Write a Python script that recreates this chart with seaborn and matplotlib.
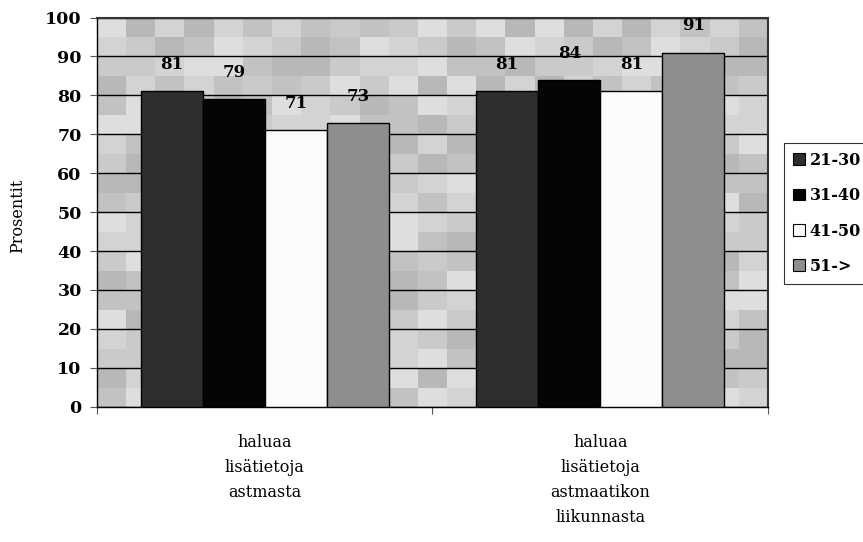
import numpy as np
import pandas as pd
import matplotlib
matplotlib.use("Agg")
import matplotlib.pyplot as plt
import seaborn as sns
from matplotlib.patches import Patch

# Survey data: share (%) of respondents in each age group
categories = ["haluaa\nlisätietoja\nastmasta",
              "haluaa\nlisätietoja\nastmaatikon\nliikunnasta"]
age_groups = ["21-30", "31-40", "41-50", "51->"]
values_21_30 = [81, 81]
values_31_40 = [79, 84]
values_41_50 = [71, 81]
values_51_up = [73, 91]
y_ticks = [0, 10, 20, 30, 40, 50, 60, 70, 80, 90, 100]

df = pd.DataFrame({
    "kysymys": categories * 4,
    "ikä": [g for g in age_groups for _ in categories],
    "prosentti": values_21_30 + values_31_40 + values_41_50 + values_51_up,
})

colors = {"21-30": "#2e2e2e", "31-40": "#050505",
          "41-50": "#fbfbfb", "51->": "#8e8e8e"}

sns.set_theme(style="white")
plt.rcParams["font.family"] = ["DejaVu Serif"]
plt.rcParams["text.color"] = "black"
plt.rcParams["axes.labelcolor"] = "black"
plt.rcParams["xtick.color"] = "black"
plt.rcParams["ytick.color"] = "black"

fig = plt.figure(figsize=(8.63, 5.42), dpi=100)
ax = fig.add_axes([0.1124, 0.2496, 0.7775, 0.7181])

# Mosaic-like grey backdrop of the plot area
tones = np.array([0.76, 0.83, 0.72, 0.87, 0.79])
cols, rows = 23, 20
ii, jj = np.meshgrid(np.arange(cols), np.arange(rows))
mosaic = tones[(ii * 3 + jj * 2 + (ii * jj) % 3) % len(tones)]
ax.imshow(mosaic, cmap="gray", vmin=0, vmax=1, aspect="auto",
          extent=(-0.5, 1.5, 0, 100), origin="lower", zorder=0,
          interpolation="nearest")

sns.barplot(data=df, x="kysymys", y="prosentti", hue="ikä",
            hue_order=age_groups, palette=colors, width=0.74, gap=0,
            edgecolor="black", linewidth=1.0, saturation=1,
            ax=ax, legend=False, zorder=3)

for cont in ax.containers:
    ax.bar_label(cont, fmt="%d", padding=13, fontsize=12,
                 fontweight="bold", color="black")

ax.set_xlim(-0.5, 1.5)
ax.set_ylim(0, 100)
ax.set_yticks(y_ticks)
ax.yaxis.grid(True, color="black", linewidth=1.0, zorder=1)
ax.set_axisbelow(True)
for ln in ax.get_ygridlines():
    ln.set_zorder(1)

ax.tick_params(axis="y", which="major", length=5, width=0.8, color="#555555",
               left=True, labelsize=12.5, labelcolor="black", pad=6)
for lab in ax.get_yticklabels():
    lab.set_fontweight("bold")
ax.tick_params(axis="x", which="major", length=0, pad=20, labelsize=11.5,
               labelcolor="black")
for lab in ax.get_xticklabels():
    lab.set_linespacing(1.6)
ax.set_xticks([-0.5, 0.5, 1.5], minor=True)
ax.tick_params(axis="x", which="minor", length=5, width=0.8, color="#555555",
               bottom=True)

ax.set_xlabel("")
ax.set_ylabel("Prosentit", fontsize=11.5, color="black")
ax.yaxis.set_label_coords(-0.105, 0.49)

for side in ["left", "bottom"]:
    ax.spines[side].set_color("black")
    ax.spines[side].set_linewidth(1.0)
for side in ["top", "right"]:
    ax.spines[side].set_color("#333333")
    ax.spines[side].set_linewidth(1.5)

handles = [Patch(facecolor=colors[g], edgecolor="black", linewidth=0.8, label=g)
           for g in age_groups]
leg = fig.legend(handles=handles, loc="upper left",
                 bbox_to_anchor=(784 / 863, 1 - 143 / 542),
                 frameon=True, fancybox=False, fontsize=11.5,
                 handlelength=0.75, handleheight=0.75, handletextpad=0.3,
                 labelspacing=1.15, borderpad=0.55, borderaxespad=0,
                 labelcolor="black")
leg.get_frame().set_edgecolor("black")
leg.get_frame().set_linewidth(0.8)
for t in leg.get_texts():
    t.set_fontweight("bold")

fig.savefig("out.png", dpi=100)
